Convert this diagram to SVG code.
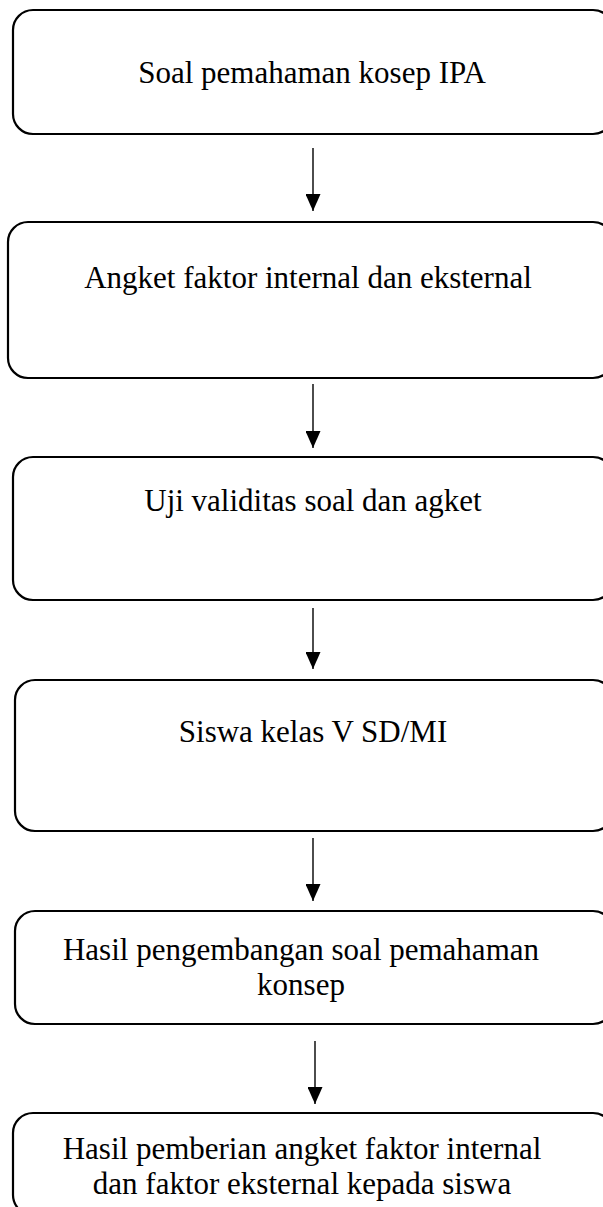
<svg xmlns="http://www.w3.org/2000/svg" width="603" height="1207" viewBox="0 0 603 1207">
<style>
.box{fill:#fff;stroke:#000;stroke-width:2.2}
.t{font-family:"Liberation Serif","Times New Roman",serif;font-size:31px;fill:#000;text-anchor:middle}
.c{stroke:#000;stroke-width:1.4;fill:none}
</style>
<defs>
<marker id="ah2" viewBox="0 0 17 15" refX="17" refY="7.5" markerWidth="17" markerHeight="15" markerUnits="userSpaceOnUse" orient="auto">
<path d="M0,0 L17,7.5 L0,15 Z" fill="#000"/>
</marker>
</defs>
<g id="n1"><rect class="box" x="13" y="10" width="600" height="124" rx="20"/><text class="t" x="312" y="83">Soal pemahaman kosep IPA</text></g>
<g id="n2"><rect class="box" x="8" y="222" width="605" height="156" rx="20"/><text class="t" x="308" y="288">Angket faktor internal dan eksternal</text></g>
<g id="n3"><rect class="box" x="13" y="457" width="600" height="143" rx="20"/><text class="t" x="313" y="511">Uji validitas soal dan agket</text></g>
<g id="n4"><rect class="box" x="15" y="680" width="598" height="151" rx="20"/><text class="t" x="313" y="742">Siswa kelas V SD/MI</text></g>
<g id="n5"><rect class="box" x="15" y="911" width="598" height="113" rx="20"/><text class="t" x="301" y="960">Hasil pengembangan soal pemahaman</text><text class="t" x="301" y="995">konsep</text></g>
<g id="n6"><rect class="box" x="13" y="1113" width="600" height="102" rx="20"/><text class="t" x="302" y="1159">Hasil pemberian angket faktor internal</text><text class="t" x="302" y="1194">dan faktor eksternal kepada siswa</text></g>
<g id="connectors">
<line class="c" x1="313" y1="148" x2="313" y2="211" marker-end="url(#ah2)"/>
<line class="c" x1="313" y1="384" x2="313" y2="448" marker-end="url(#ah2)"/>
<line class="c" x1="313" y1="608" x2="313" y2="669" marker-end="url(#ah2)"/>
<line class="c" x1="313" y1="838" x2="313" y2="901" marker-end="url(#ah2)"/>
<line class="c" x1="315" y1="1041" x2="315" y2="1104" marker-end="url(#ah2)"/>
</g>
</svg>
